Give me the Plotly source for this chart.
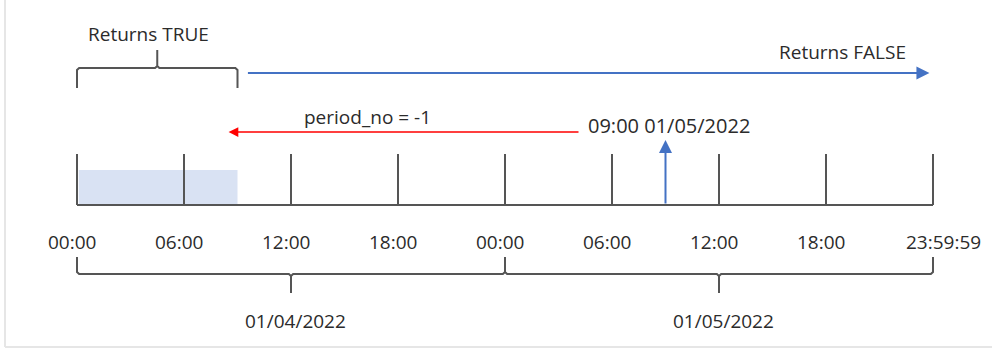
import plotly.graph_objects as go

# ---- data (hours from 00:00 on 01/04/2022) ----
tick_hours = [0, 6, 12, 18, 24, 30, 36, 42, 48]
tick_labels = ["00:00", "06:00", "12:00", "18:00", "00:00", "06:00", "12:00", "18:00", "23:59:59"]
day_starts = [0, 24]
day_ends = [24, 48]
day_labels = ["01/04/2022", "01/05/2022"]
event_hour = 33            # 09:00 01/05/2022
event_label = "09:00 01/05/2022"
period_start = 9           # period_no = -1 -> same time previous day
true_range = [0, 9]        # Returns TRUE region
false_range = [9.5, 47.8]  # Returns FALSE region
period_label = "period_no = -1"

# ---- layout helpers ----
W, H = 992, 350
X0_PX, X1_PX = 77, 933
ppx = (X1_PX - X0_PX) / 48.0
xr = [(0 - X0_PX) / ppx, (W - X0_PX) / ppx]

GRAY = "#555555"
TXT = "#2b2b2b"
BLUE = "#4472C4"
RED = "#FF0000"
FONT = "Open Sans"
FS = 19

fig = go.Figure()

# shaded TRUE area
fig.add_shape(type="rect", x0=true_range[0] + 0.1, x1=true_range[1], y0=170, y1=205,
              fillcolor="#D9E2F3", line_width=0, layer="below")

# baseline and ticks
fig.add_trace(go.Scatter(x=[tick_hours[0], tick_hours[-1]], y=[205, 205], mode="lines",
                         line=dict(color=GRAY, width=2), hoverinfo="skip"))
for h in tick_hours:
    fig.add_trace(go.Scatter(x=[h, h], y=[154, 205], mode="lines",
                             line=dict(color=GRAY, width=2), hoverinfo="skip"))

# tick labels
for i, (h, lab) in enumerate(zip(tick_hours, tick_labels)):
    shift = 10 if i == len(tick_hours) - 1 else -5
    fig.add_annotation(x=h, y=242, text=lab, showarrow=False, xshift=shift,
                       font=dict(family=FONT, size=FS, color=TXT))

# bottom braces
for s, e, lab in zip(day_starts, day_ends, day_labels):
    m = (s + e) / 2
    r = 0.12
    xs = [s, s, s + r, m - r, m, m, m, m + r, e - r, e, e]
    ys = [257, 272, 274, 274, 276, 293, 276, 274, 274, 272, 257]
    fig.add_trace(go.Scatter(x=xs, y=ys, mode="lines", line=dict(color=GRAY, width=2),
                             hoverinfo="skip"))
    fig.add_annotation(x=m, y=321, text=lab, showarrow=False, xshift=4,
                       font=dict(family=FONT, size=FS, color=TXT))

# top brace (Returns TRUE)
s, e = true_range
m = (s + e) / 2
r = 0.12
xs = [s, s, s + r, m - r, m, m, m, m + r, e - r, e, e]
ys = [88, 70, 68, 68, 66, 50, 66, 68, 68, 70, 88]
fig.add_trace(go.Scatter(x=xs, y=ys, mode="lines", line=dict(color=GRAY, width=2),
                         hoverinfo="skip"))
fig.add_annotation(x=m, y=34, text="Returns TRUE", showarrow=False, xshift=-9,
                   font=dict(family=FONT, size=FS, color=TXT))

# Returns FALSE arrow
fig.add_annotation(x=false_range[1], y=73, ax=false_range[0], ay=73, axref="x", ayref="y",
                   xref="x", yref="y", showarrow=True, arrowhead=2, arrowsize=1.3,
                   arrowwidth=2, arrowcolor=BLUE, text="")
fig.add_annotation(x=false_range[1], y=52, text="Returns FALSE", showarrow=False,
                   xshift=-87, font=dict(family=FONT, size=FS, color=TXT))

# red arrow period_no = -1
red_start = (580 - X0_PX) / ppx
fig.add_annotation(x=period_start - 0.5, y=132, ax=red_start, ay=132, axref="x", ayref="y",
                   xref="x", yref="y", showarrow=True, arrowhead=2, arrowsize=1.3,
                   arrowwidth=1.5, arrowcolor=RED, text="")
fig.add_annotation(x=period_start, y=117, text=period_label, showarrow=False, xshift=130,
                   font=dict(family=FONT, size=FS, color=TXT))
fig.add_annotation(x=event_hour, y=125, text=event_label, showarrow=False, xshift=3,
                   font=dict(family=FONT, size=20, color=TXT))

# blue event arrow
fig.add_annotation(x=event_hour, y=140, ax=event_hour, ay=205, axref="x", ayref="y",
                   xref="x", yref="y", showarrow=True, arrowhead=2, arrowsize=1.3,
                   arrowwidth=2, arrowcolor=BLUE, text="")

# frame (left and bottom light edges)
fig.add_shape(type="line", xref="paper", yref="y", x0=5 / W, x1=5 / W, y0=0, y1=347,
              line=dict(color="#E6E6E6", width=2))
fig.add_shape(type="line", xref="paper", yref="y", x0=5 / W, x1=1, y0=347, y1=347,
              line=dict(color="#E6E6E6", width=2))

fig.update_layout(
    width=W, height=H, margin=dict(l=0, r=0, t=0, b=0),
    paper_bgcolor="white", plot_bgcolor="white", showlegend=False,
    xaxis=dict(range=xr, visible=False, fixedrange=True),
    yaxis=dict(range=[H, 0], visible=False, fixedrange=True),
)

fig.write_html("out.html", config={"displayModeBar": False},
               post_script="document.body.style.margin='0';document.body.style.overflow='hidden';")
